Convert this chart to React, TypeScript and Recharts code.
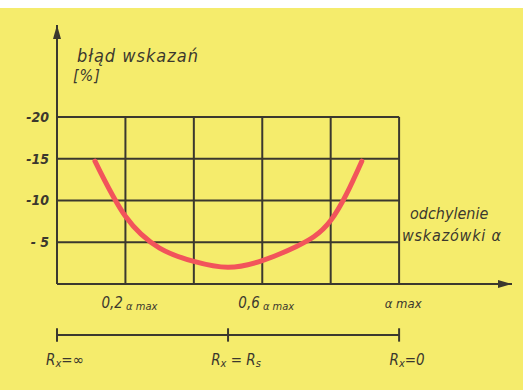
import React from 'react';
import { LineChart, Line, XAxis, YAxis, ReferenceLine, ReferenceDot } from 'recharts';

// points (alpha / alpha max, error %)
const alpha = [0.111, 0.2, 0.3, 0.4, 0.5, 0.6, 0.7, 0.8, 0.891];
const errorPct = [-14.7, -8.1, -4.3, -2.7, -2.0, -2.8, -4.5, -7.6, -14.7];

const gridX = [0.2, 0.4, 0.6, 0.8, 1.0];
const gridY = [-5, -10, -15, -20];
const yTicks = [-20, -15, -10, -5];
const yTickText = ['-20', '-15', '-10', '- 5'];

const xTicks = [0.2, 0.6, 1.0];
const xTickMain = ['0,2', '0,6', ''];
const xTickSub = ['α max', 'α max', 'α max'];

const rTicks = [0, 0.5, 1.0];
const rTickMain = ['R', 'R', 'R'];
const rTickSub = ['x', 'x', 'x'];
const rTickRest = ['=∞', ' = R', '=0'];
const rTickSub2 = ['', 's', ''];

const data = alpha.map((a, i) => ({ a, err: errorPct[i] }));

const INK = '#3b382e';
const FONT = "'DejaVu Sans Condensed', 'DejaVu Sans', sans-serif";
const SCALE_Y = 6.1; // lower resistance scale, drawn under the axis

const XTick = (props: any) => {
  const { x, y, payload } = props;
  const i = xTicks.indexOf(payload.value);
  const main = xTickMain[i];
  return (
    <text x={x + 4} y={y + 16} textAnchor="middle" fill={INK} fontFamily={FONT} fontStyle="italic">
      <tspan fontSize={15}>{main}</tspan>
      <tspan fontSize={main ? 11 : 13} dy={main ? 2 : 0}>{(main ? ' ' : '') + xTickSub[i]}</tspan>
    </text>
  );
};

const RTick = (props: any) => {
  const { x, y, payload } = props;
  const i = rTicks.indexOf(payload.value);
  return (
    <text x={x + 8} y={y + 22} textAnchor="middle" fill={INK} fontFamily={FONT} fontStyle="italic" fontSize={15}>
      <tspan>{rTickMain[i]}</tspan>
      <tspan fontSize={11} dy={2}>{rTickSub[i]}</tspan>
      <tspan dy={-2}>{rTickRest[i]}</tspan>
      <tspan fontSize={11} dy={2}>{rTickSub2[i]}</tspan>
    </text>
  );
};

const YTick = (props: any) => {
  const { x, y, payload } = props;
  const i = yTicks.indexOf(payload.value);
  return (
    <text x={x} y={y + 5} textAnchor="end" fill={INK} fontFamily={FONT} fontStyle="italic" fontWeight="bold" fontSize={14}>
      {yTickText[i]}
    </text>
  );
};

const ArrowUp = (props: any) => (
  <path d={`M${props.cx},${props.cy} L${props.cx - 4},${props.cy + 14} L${props.cx + 4},${props.cy + 14} Z`} fill={INK} />
);
const ArrowRight = (props: any) => (
  <path d={`M${props.cx},${props.cy} L${props.cx - 14},${props.cy - 4} L${props.cx - 14},${props.cy + 4} Z`} fill={INK} />
);

export default function App() {
  return (
    <div
      style={{
        position: 'absolute',
        left: 0,
        top: 0,
        width: 523,
        height: 390,
        background: 'linear-gradient(#ffffff 0, #ffffff 8px, #f5ec6c 8px)',
      }}
    >
      <LineChart width={523} height={390} data={data} margin={{ top: 25, right: 11, left: 0, bottom: 13 }}>
        <XAxis
          dataKey="a"
          type="number"
          domain={[0, 1.33]}
          ticks={xTicks}
          tick={<XTick />}
          tickLine={false}
          axisLine={{ stroke: INK, strokeWidth: 2 }}
          height={51}
          interval={0}
        />
        <XAxis
          xAxisId="r"
          dataKey="a"
          type="number"
          domain={[0, 1.33]}
          ticks={rTicks}
          tick={<RTick />}
          tickLine={false}
          axisLine={false}
          height={42}
          interval={0}
        />
        <YAxis
          type="number"
          domain={[-31, 0]}
          reversed
          ticks={yTicks}
          tick={<YTick />}
          tickLine={false}
          axisLine={{ stroke: INK, strokeWidth: 2 }}
          width={57}
          interval={0}
        />
        {gridY.map((v) => (
          <ReferenceLine key={`gy${v}`} segment={[{ x: 0, y: v }, { x: 1, y: v }]} stroke={INK} strokeWidth={2} />
        ))}
        {gridX.map((v) => (
          <ReferenceLine key={`gx${v}`} segment={[{ x: v, y: 0 }, { x: v, y: -20 }]} stroke={INK} strokeWidth={2} />
        ))}
        <ReferenceLine
          segment={[{ x: 0, y: SCALE_Y }, { x: 1, y: SCALE_Y }]}
          stroke={INK}
          strokeWidth={2}
          ifOverflow="visible"
        />
        {rTicks.map((v) => (
          <ReferenceLine
            key={`rt${v}`}
            segment={[{ x: v, y: SCALE_Y - 0.8 }, { x: v, y: SCALE_Y + 0.8 }]}
            stroke={INK}
            strokeWidth={2}
            ifOverflow="visible"
          />
        ))}
        <ReferenceDot x={0} y={-31} r={0} shape={<ArrowUp />} ifOverflow="visible" />
        <ReferenceDot x={1.33} y={0} r={0} shape={<ArrowRight />} ifOverflow="visible" />
        <Line
          type="natural"
          dataKey="err"
          stroke="#f2545b"
          strokeWidth={5}
          strokeLinecap="round"
          dot={false}
          isAnimationActive={false}
        />
        <text x={77} y={62} fill={INK} fontFamily={FONT} fontStyle="italic" fontSize={18} letterSpacing={1}>błąd wskazań</text>
        <text x={73} y={81} fill={INK} fontFamily={FONT} fontStyle="italic" fontSize={16} letterSpacing={1}>[%]</text>
        <text x={410} y={219} fill={INK} fontFamily={FONT} fontStyle="italic" fontSize={16}>odchylenie</text>
        <text x={402} y={241} fill={INK} fontFamily={FONT} fontStyle="italic" fontSize={16} letterSpacing={0.8}>wskazówki α</text>
      </LineChart>
    </div>
  );
}
